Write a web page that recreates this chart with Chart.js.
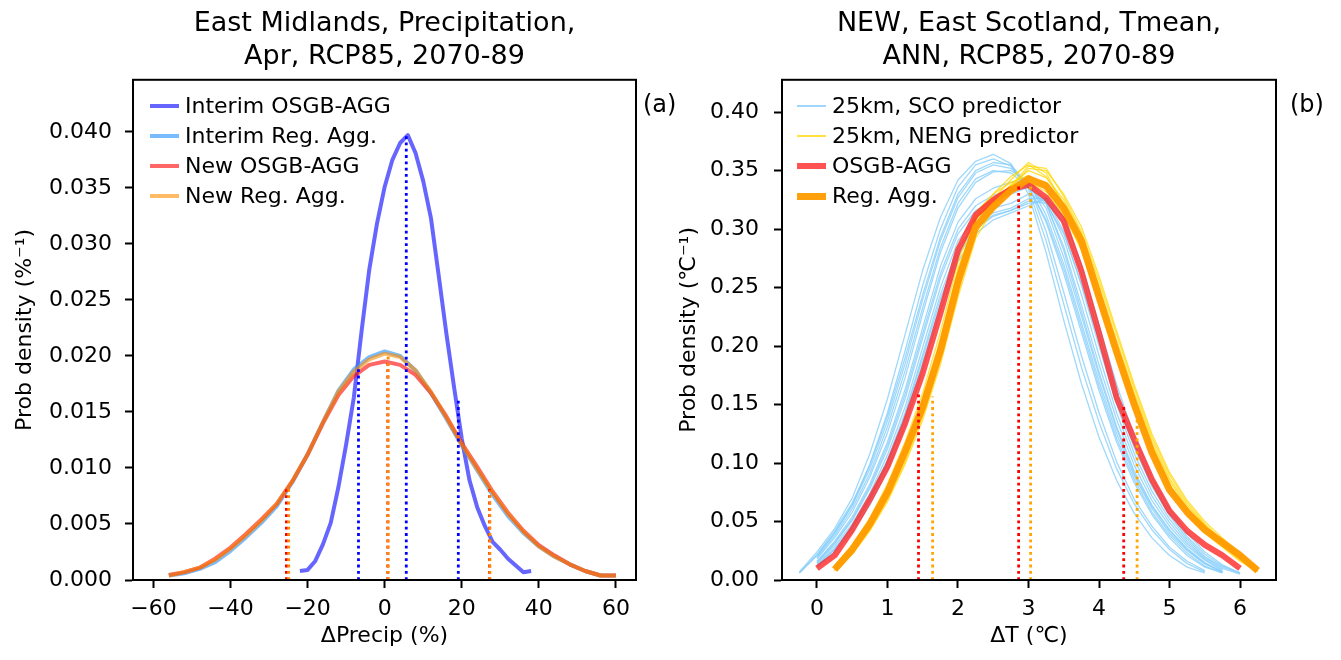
<!DOCTYPE html>
<html lang="en">
<head>
  <meta charset="UTF-8">
  <title>Probability density comparison</title>
  <script src="https://cdn.jsdelivr.net/npm/chart.js"></script>
  <style>
    body { margin: 0; background: #fff; font-family: 'DejaVu Sans', sans-serif; color: #000; }
    #page { position: relative; width: 1341px; height: 660px; overflow: hidden; }
    canvas { position: absolute; top: 0; }
    #chartA { left: 0; }
    #chartB { left: 670px; }
    .panel-tag { position: absolute; top: 92px; font-size: 24px; line-height: 24px; }
    .legend { position: absolute; top: 91px; font-size: 22px; }
    .legend-row { display: flex; align-items: center; height: 30px; line-height: 30px; white-space: nowrap; }
    .legend-swatch { display: inline-block; width: 29px; margin-right: 6px; }
  </style>
</head>
<body>
  <div id="page">
    <canvas id="chartA" width="670" height="660"></canvas>
    <canvas id="chartB" width="671" height="660"></canvas>
    <div class="panel-tag" style="left:643px">(a)</div>
    <div class="panel-tag" style="left:1290px">(b)</div>
    <div class="legend" id="legendA" style="left:150px"></div>
    <div class="legend" id="legendB" style="left:797px"></div>
  </div>

  <script>
    // ---- panel (a): East Midlands precipitation ----
    const precipX = [-56, -52, -48, -44, -40, -36, -32, -28, -24, -20, -16, -12, -8, -4, 0,
                     4, 8, 12, 16, 20, 24, 28, 32, 36, 40, 44, 48, 52, 56, 60];
    const interimRegAgg = [0.0004, 0.0006, 0.0010, 0.0016, 0.0026, 0.0038, 0.0051, 0.0066, 0.0087, 0.0112,
                           0.0141, 0.0169, 0.0188, 0.0199, 0.0204, 0.0200, 0.0187, 0.0167, 0.0144, 0.0120,
                           0.0098, 0.0076, 0.0057, 0.0042, 0.0030, 0.0021, 0.0014, 0.0008, 0.0004, 0.0004];
    const newOsgbAgg = [0.00045, 0.0007, 0.0011, 0.0019, 0.0029, 0.0041, 0.0054, 0.0068, 0.0088, 0.0112,
                        0.0140, 0.0165, 0.0182, 0.0192, 0.0195, 0.0192, 0.0183, 0.0167, 0.0146, 0.0122,
                        0.0101, 0.0079, 0.0060, 0.0044, 0.0031, 0.0022, 0.0014, 0.0008, 0.0004, 0.0004];
    const newRegAgg = [0.0004, 0.0007, 0.0011, 0.0018, 0.0028, 0.0040, 0.0053, 0.0068, 0.0088, 0.0112,
                       0.0141, 0.0168, 0.0186, 0.0197, 0.0202, 0.0199, 0.0187, 0.0168, 0.0145, 0.0121,
                       0.0099, 0.0078, 0.0059, 0.0043, 0.0030, 0.0021, 0.0014, 0.0008, 0.0004, 0.0004];
    const interimOsgbX = [-22, -20, -18, -16, -14, -12, -10, -8, -6, -4, -2, 0, 2, 4, 6, 8,
                          10, 12, 14, 16, 18, 20, 22, 24, 26, 28, 30, 32, 34, 36, 38];
    const interimOsgbAgg = [0.0008, 0.0009, 0.0017, 0.0032, 0.0051, 0.0083, 0.0121, 0.0163, 0.0222, 0.0277,
                            0.0318, 0.0351, 0.0375, 0.0390, 0.0397, 0.0381, 0.0356, 0.0323, 0.0272, 0.0220,
                            0.0172, 0.0126, 0.0089, 0.0065, 0.0048, 0.0034, 0.0027, 0.0019, 0.0013, 0.0007, 0.0008];
    // percentile markers (x position, height of dotted line)
    const interimOsgbPct = [-6.8, 5.6, 19.1];
    const interimOsgbPctTop = [0.0190, 0.0397, 0.0160];
    const newOsgbPct = [-25.5, 0.8, 27.2];
    const newOsgbPctTop = [0.0081, 0.0195, 0.0081];
    const newRegPct = [-24.9, 0.9, 27.3];
    const newRegPctTop = [0.0083, 0.0202, 0.0080];
    const precipTicks = [-60, -40, -20, 0, 20, 40, 60];
    const precipDensityTicks = [0, 0.005, 0.010, 0.015, 0.020, 0.025, 0.030, 0.035, 0.040];

    // ---- panel (b): East Scotland Tmean ----
    const tempX = [-0.25, 0, 0.25, 0.5, 0.75, 1, 1.25, 1.5, 1.75, 2, 2.25, 2.5, 2.75, 3, 3.25,
                   3.5, 3.75, 4, 4.25, 4.5, 4.75, 5, 5.25, 5.5, 5.75, 6, 6.25];
    const sco25km = [
      [0.007, 0.024, 0.044, 0.070, 0.108, 0.155, 0.210, 0.265, 0.310, 0.342, 0.358, 0.364, 0.356, 0.330, 0.280, 0.222, 0.168, 0.122, 0.085, 0.057, 0.036, 0.021, 0.011, 0.006, null, null, null],
      [0.006, 0.021, 0.040, 0.064, 0.099, 0.143, 0.196, 0.252, 0.300, 0.336, 0.355, 0.360, 0.354, 0.334, 0.290, 0.236, 0.182, 0.135, 0.095, 0.065, 0.043, 0.026, 0.014, 0.007, null, null, null],
      [0.006, 0.022, 0.042, 0.066, 0.098, 0.140, 0.190, 0.244, 0.293, 0.330, 0.350, 0.357, 0.355, 0.338, 0.298, 0.246, 0.192, 0.143, 0.101, 0.069, 0.046, 0.028, 0.016, 0.008, null, null, null],
      [null, 0.020, 0.040, 0.064, 0.095, 0.136, 0.185, 0.240, 0.290, 0.327, 0.348, 0.355, 0.352, 0.337, 0.306, 0.262, 0.212, 0.162, 0.118, 0.083, 0.056, 0.036, 0.021, 0.011, 0.006, null, null],
      [null, 0.019, 0.038, 0.061, 0.091, 0.131, 0.179, 0.233, 0.284, 0.322, 0.343, 0.350, 0.348, 0.336, 0.308, 0.266, 0.216, 0.166, 0.121, 0.086, 0.058, 0.038, 0.023, 0.012, 0.006, null, null],
      [null, 0.018, 0.036, 0.058, 0.088, 0.126, 0.173, 0.228, 0.280, 0.318, 0.340, 0.349, 0.350, 0.340, 0.312, 0.270, 0.220, 0.170, 0.125, 0.089, 0.061, 0.040, 0.025, 0.014, 0.007, null, null],
      [null, 0.016, 0.033, 0.054, 0.082, 0.118, 0.163, 0.216, 0.268, 0.306, 0.326, 0.335, 0.340, 0.342, 0.322, 0.282, 0.230, 0.178, 0.131, 0.093, 0.064, 0.043, 0.027, 0.015, 0.007, null, null],
      [null, 0.015, 0.032, 0.052, 0.080, 0.115, 0.159, 0.211, 0.262, 0.300, 0.320, 0.329, 0.333, 0.338, 0.318, 0.276, 0.226, 0.175, 0.129, 0.091, 0.063, 0.042, 0.026, 0.014, 0.007, null, null],
      [null, 0.015, 0.031, 0.051, 0.078, 0.112, 0.155, 0.207, 0.258, 0.296, 0.316, 0.325, 0.330, 0.336, 0.322, 0.285, 0.235, 0.184, 0.137, 0.098, 0.068, 0.046, 0.029, 0.017, 0.008, null, null],
      [null, 0.014, 0.029, 0.048, 0.074, 0.107, 0.148, 0.199, 0.250, 0.290, 0.310, 0.318, 0.322, 0.330, 0.324, 0.292, 0.244, 0.192, 0.143, 0.103, 0.072, 0.049, 0.031, 0.018, 0.009, null, null],
      [null, 0.013, 0.027, 0.046, 0.071, 0.103, 0.143, 0.193, 0.244, 0.284, 0.305, 0.314, 0.318, 0.326, 0.326, 0.298, 0.252, 0.200, 0.150, 0.108, 0.076, 0.052, 0.033, 0.019, 0.010, 0.005, null],
      [null, 0.012, 0.026, 0.045, 0.070, 0.101, 0.141, 0.190, 0.240, 0.280, 0.302, 0.312, 0.316, 0.324, 0.322, 0.296, 0.254, 0.204, 0.155, 0.113, 0.080, 0.055, 0.035, 0.020, 0.011, 0.006, null],
      [null, 0.012, 0.026, 0.044, 0.068, 0.099, 0.138, 0.186, 0.236, 0.277, 0.300, 0.311, 0.316, 0.322, 0.325, 0.304, 0.262, 0.210, 0.160, 0.117, 0.083, 0.057, 0.037, 0.022, 0.012, 0.006, null],
      [null, 0.011, 0.024, 0.041, 0.064, 0.094, 0.132, 0.180, 0.230, 0.272, 0.296, 0.308, 0.314, 0.320, 0.327, 0.310, 0.270, 0.218, 0.167, 0.123, 0.088, 0.061, 0.040, 0.024, 0.013, 0.006, null]
    ];
    const neng25km = [
      [null, null, 0.010, 0.026, 0.048, 0.075, 0.110, 0.150, 0.200, 0.262, 0.310, 0.330, 0.345, 0.355, 0.345, 0.322, 0.290, 0.245, 0.198, 0.153, 0.113, 0.082, 0.060, 0.044, 0.031, 0.019, 0.008],
      [null, null, 0.009, 0.024, 0.045, 0.071, 0.104, 0.143, 0.192, 0.252, 0.300, 0.322, 0.338, 0.350, 0.344, 0.325, 0.296, 0.252, 0.205, 0.160, 0.119, 0.087, 0.064, 0.047, 0.033, 0.021, 0.009],
      [null, null, 0.012, 0.030, 0.053, 0.082, 0.118, 0.160, 0.212, 0.272, 0.314, 0.330, 0.340, 0.346, 0.336, 0.313, 0.282, 0.236, 0.190, 0.146, 0.107, 0.077, 0.056, 0.040, 0.028, 0.016, 0.007],
      [null, null, 0.008, 0.022, 0.042, 0.067, 0.099, 0.137, 0.184, 0.242, 0.292, 0.317, 0.335, 0.352, 0.350, 0.330, 0.302, 0.260, 0.213, 0.167, 0.125, 0.092, 0.068, 0.050, 0.036, 0.023, 0.011],
      [null, null, 0.011, 0.028, 0.050, 0.078, 0.113, 0.155, 0.206, 0.266, 0.308, 0.324, 0.334, 0.340, 0.332, 0.312, 0.284, 0.240, 0.194, 0.150, 0.111, 0.080, 0.058, 0.042, 0.029, 0.017, 0.007],
      [null, null, 0.009, 0.025, 0.046, 0.073, 0.107, 0.147, 0.196, 0.256, 0.304, 0.326, 0.342, 0.357, 0.348, 0.320, 0.288, 0.246, 0.200, 0.156, 0.116, 0.085, 0.062, 0.045, 0.032, 0.020, 0.009],
      [null, null, 0.010, 0.027, 0.049, 0.077, 0.112, 0.153, 0.203, 0.265, 0.309, 0.326, 0.337, 0.344, 0.340, 0.318, 0.288, 0.243, 0.197, 0.152, 0.112, 0.081, 0.059, 0.043, 0.030, 0.018, 0.008],
      [null, null, 0.008, 0.023, 0.043, 0.069, 0.101, 0.140, 0.188, 0.247, 0.296, 0.320, 0.337, 0.354, 0.352, 0.328, 0.298, 0.256, 0.210, 0.164, 0.122, 0.090, 0.066, 0.048, 0.034, 0.022, 0.010]
    ];
    const osgbAgg = [null, 0.010, 0.021, 0.043, 0.069, 0.097, 0.134, 0.177, 0.228, 0.282, 0.312, 0.325, 0.334, 0.338, 0.327,
                     0.307, 0.264, 0.211, 0.156, 0.120, 0.086, 0.059, 0.042, 0.030, 0.021, 0.010, null];
    const regAgg = [null, null, 0.009, 0.026, 0.048, 0.075, 0.110, 0.148, 0.196, 0.255, 0.302, 0.319, 0.333, 0.343, 0.337,
                    0.318, 0.290, 0.242, 0.195, 0.150, 0.109, 0.077, 0.058, 0.043, 0.032, 0.021, 0.008];
    const osgbPct = [1.44, 2.86, 4.35];
    const osgbPctTop = [0.160, 0.337, 0.148];
    const regPct = [1.64, 3.03, 4.54];
    const regPctTop = [0.157, 0.342, 0.146];
    const tempTicks = [0, 1, 2, 3, 4, 5, 6];
    const tempDensityTicks = [0, 0.05, 0.10, 0.15, 0.20, 0.25, 0.30, 0.35, 0.40];

    Chart.defaults.font.family = "'DejaVu Sans', sans-serif";
    Chart.defaults.color = '#000';

    const pts = (xs, ys) => xs.map((x, i) => ({ x: x, y: ys[i] })).filter(p => p.y !== null);

    function curve(label, xs, ys, color, width, inLegend) {
      return { label: label, data: pts(xs, ys), borderColor: color, borderWidth: width, inLegend: inLegend };
    }

    function markers(label, xs, tops, color) {
      return xs.map((x, i) => ({
        label: label, data: [{ x: x, y: 0 }, { x: x, y: tops[i] }],
        borderColor: color, borderWidth: 2.8, borderDash: [2.8, 3.5], inLegend: false
      }));
    }

    // box around the plot (top + right spines)
    const frame = {
      id: 'frame',
      afterDraw(chart) {
        const { ctx, chartArea: a } = chart;
        ctx.save();
        ctx.strokeStyle = '#000';
        ctx.lineWidth = 2;
        ctx.strokeRect(a.left, a.top, a.right - a.left, a.bottom - a.top);
        ctx.restore();
      }
    };

    function panelOptions(p) {
      return {
        responsive: false,
        animation: false,
        events: [],
        layout: { padding: { left: 0, top: 0, right: p.padRight, bottom: 0 } },
        elements: {
          point: { radius: 0 },
          line: { tension: 0, borderJoinStyle: 'round', fill: false }
        },
        plugins: {
          legend: { display: false },
          tooltip: { enabled: false },
          title: {
            display: true, fullSize: false, text: p.title, color: '#000',
            font: { size: 27, weight: 'normal', lineHeight: 1.2 },
            padding: { top: 8, bottom: 7 }
          }
        },
        scales: {
          x: {
            type: 'linear', min: p.xMin, max: p.xMax,
            afterFit: s => { s.height = 80; },
            afterBuildTicks: s => { s.ticks = p.xTicks.map(v => ({ value: v })); },
            ticks: {
              font: { size: 22 }, padding: 8, maxRotation: 0, autoSkip: false,
              callback: v => String(v).replace('-', '\u2212')
            },
            grid: { drawOnChartArea: false, tickLength: 8, tickColor: '#000', tickWidth: 2 },
            border: { color: '#000', width: 2 },
            title: { display: true, text: p.xTitle, font: { size: 22 }, padding: { top: 0, bottom: 11 } }
          },
          y: {
            type: 'linear', min: 0, max: p.yMax,
            afterFit: s => { s.width = p.yWidth; },
            afterBuildTicks: s => { s.ticks = p.yTicks.map(v => ({ value: v })); },
            ticks: {
              font: { size: 22 }, padding: p.yPad, autoSkip: false,
              callback: v => v.toFixed(p.yDigits)
            },
            grid: { drawOnChartArea: false, tickLength: 8, tickColor: '#000', tickWidth: 2 },
            border: { color: '#000', width: 2 },
            title: { display: true, text: p.yTitle, font: { size: 22 }, padding: { top: p.yTitlePad, bottom: 0 } }
          }
        }
      };
    }

    function buildLegend(chart, el) {
      chart.data.datasets.filter(d => d.inLegend).forEach(d => {
        const row = document.createElement('div');
        row.className = 'legend-row';
        const sw = document.createElement('span');
        sw.className = 'legend-swatch';
        sw.style.height = d.borderWidth + 'px';
        sw.style.background = d.borderColor;
        row.appendChild(sw);
        row.appendChild(document.createTextNode(d.label));
        el.appendChild(row);
      });
    }

    // later datasets drawn on top
    function stackOrder(datasets) {
      datasets.forEach((d, i) => { d.order = datasets.length - i; });
      return datasets;
    }

    // ---- chart (a) ----
    const datasetsA = stackOrder([
      curve('Interim OSGB-AGG', interimOsgbX, interimOsgbAgg, 'rgba(0,0,255,0.6)', 4, true),
      curve('Interim Reg. Agg.', precipX, interimRegAgg, 'rgba(30,144,255,0.6)', 4, true),
      curve('New OSGB-AGG', precipX, newOsgbAgg, 'rgba(255,0,0,0.6)', 4, true),
      curve('New Reg. Agg.', precipX, newRegAgg, 'rgba(255,140,0,0.6)', 4, true),
      ...markers('Interim OSGB-AGG percentiles', interimOsgbPct, interimOsgbPctTop, '#0000ff'),
      ...markers('New OSGB-AGG percentiles', newOsgbPct, newOsgbPctTop, '#ff0000'),
      ...markers('New Reg. Agg. percentiles', newRegPct, newRegPctTop, '#ff8c00')
    ]);

    const chartA = new Chart(document.getElementById('chartA'), {
      type: 'line',
      data: { datasets: datasetsA },
      options: panelOptions({
        padRight: 34, yWidth: 133, yPad: 13, yTitlePad: 12, yDigits: 3,
        xMin: -65.3, xMax: 65.2, yMax: 0.04464,
        xTicks: precipTicks, yTicks: precipDensityTicks,
        title: ['East Midlands, Precipitation,', 'Apr, RCP85, 2070-89'],
        xTitle: '\u0394Precip (%)', yTitle: 'Prob density (%\u207B\u00B9)'
      }),
      plugins: [frame]
    });
    buildLegend(chartA, document.getElementById('legendA'));

    // ---- chart (b) ----
    const datasetsB = stackOrder([
      ...sco25km.map((ys, i) => curve('25km, SCO predictor', tempX, ys, 'rgba(135,206,250,0.8)', 1.3, i === 0)),
      ...neng25km.map((ys, i) => curve('25km, NENG predictor', tempX, ys, 'rgba(255,215,0,0.75)', 1.3, i === 0)),
      curve('OSGB-AGG', tempX, osgbAgg, 'rgba(255,40,40,0.8)', 6, true),
      curve('Reg. Agg.', tempX, regAgg, 'rgba(255,155,0,0.95)', 7, true),
      ...markers('OSGB-AGG percentiles', osgbPct, osgbPctTop, '#ff0000'),
      ...markers('Reg. Agg. percentiles', regPct, regPctTop, '#ffa500')
    ]);

    const chartB = new Chart(document.getElementById('chartB'), {
      type: 'line',
      data: { datasets: datasetsB },
      options: panelOptions({
        padRight: 65, yWidth: 112, yPad: 15, yTitlePad: 6, yDigits: 2,
        xMin: -0.496, xMax: 6.51, yMax: 0.4277,
        xTicks: tempTicks, yTicks: tempDensityTicks,
        title: ['NEW, East Scotland, Tmean,', 'ANN, RCP85, 2070-89'],
        xTitle: '\u0394T (\u2103)', yTitle: 'Prob density (\u2103\u207B\u00B9)'
      }),
      plugins: [frame]
    });
    buildLegend(chartB, document.getElementById('legendB'));
  </script>
</body>
</html>
